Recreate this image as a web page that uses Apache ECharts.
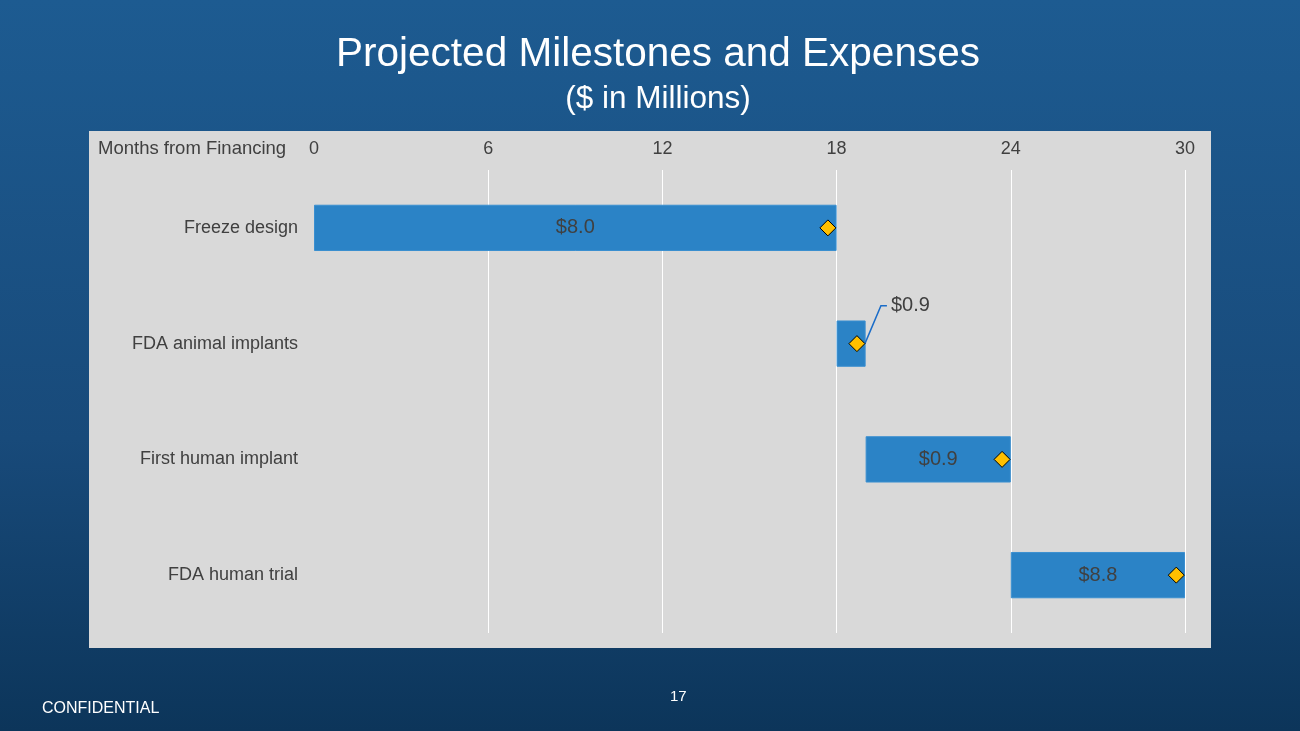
<!DOCTYPE html>
<html>
<head>
<meta charset="utf-8">
<script src="https://cdn.jsdelivr.net/npm/echarts@6/dist/echarts.min.js"></script>
<style>
html,body{margin:0;padding:0;width:1300px;height:731px;overflow:hidden;}
#c{width:1300px;height:731px;}
</style>
</head>
<body>
<div id="c"></div>
<script>
const categories = ['Freeze design', 'FDA animal implants', 'First human implant', 'FDA human trial'];
const startMonths = [0, 18, 19, 24];
const endMonths = [18, 19, 24, 30];
const milestoneMonths = [17.7, 18.7, 23.7, 29.7];
const expenses = [8.0, 0.9, 0.9, 8.8];
const monthTicks = [0, 6, 12, 18, 24, 30];
const calloutIndex = 1; // label drawn outside the bar with a leader line

const durations = endMonths.map((e, i) => e - startMonths[i]);
const fmt = v => '$' + v.toFixed(1);

const chart = echarts.init(document.getElementById('c'), null, {renderer: 'canvas'});
const FONT = '"Liberation Sans", Arial, sans-serif';

chart.setOption({
  animation: false,
  backgroundColor: {
    type: 'linear', x: 0, y: 0, x2: 0, y2: 1,
    colorStops: [
      {offset: 0, color: '#1d5b91'},
      {offset: 0.6, color: '#184a7a'},
      {offset: 1, color: '#0c355a'}
    ]
  },
  graphic: [
    {type: 'rect', z: -10, silent: true,
     shape: {x: 89, y: 131, width: 1122, height: 517},
     style: {fill: '#d9d9d9'}},
    {type: 'text', x: 658, y: 55, z: 10,
     style: {text: 'Projected Milestones and Expenses', fill: '#ffffff',
       font: '40.5px ' + FONT, align: 'center', verticalAlign: 'middle'}},
    {type: 'text', x: 658, y: 99, z: 10,
     style: {text: '($ in Millions)', fill: '#ffffff',
       font: '31.5px ' + FONT, align: 'center', verticalAlign: 'middle'}},
    {type: 'text', left: 98, top: 139, z: 10,
     style: {text: 'Months from Financing', fill: '#404040', font: '18.5px ' + FONT}},
    {type: 'text', left: 42, top: 701,
     style: {text: 'CONFIDENTIAL', fill: '#ffffff', font: '16px ' + FONT}},
    {type: 'text', left: 670, top: 689,
     style: {text: '17', fill: '#ffffff', font: '15px ' + FONT}}
  ],
  grid: {left: 314, right: 115, top: 170, bottom: 98, containLabel: false},
  xAxis: {
    type: 'value', position: 'top', min: 0, max: 30, interval: 6,
    axisLine: {show: false}, axisTick: {show: false},
    axisLabel: {color: '#404040', fontSize: 18, fontFamily: FONT, margin: 12,
      customValues: monthTicks},
    splitLine: {show: true, showMinLine: false, lineStyle: {color: '#ffffff', width: 1}}
  },
  yAxis: {
    type: 'category', inverse: true, data: categories,
    axisLine: {show: false}, axisTick: {show: false},
    axisLabel: {color: '#404040', fontSize: 18, fontFamily: FONT, margin: 16}
  },
  series: [
    {type: 'bar', stack: 'g', data: startMonths, itemStyle: {color: 'transparent'},
     barWidth: '40%', silent: true},
    {type: 'bar', stack: 'g', barWidth: '40%',
     data: durations.map((d, i) => ({
       value: d,
       label: {show: i !== calloutIndex}
     })),
     itemStyle: {color: '#2b83c6', borderColor: '#3a8fd0', borderWidth: 1},
     label: {position: 'inside', color: '#404040', fontSize: 20, fontFamily: FONT,
       formatter: p => fmt(expenses[p.dataIndex])}
    },
    {type: 'custom', z: 4, silent: true,
     data: [[milestoneMonths[calloutIndex], calloutIndex, expenses[calloutIndex]]],
     encode: {x: 0, y: 1},
     renderItem: function (params, api) {
       const p = api.coord([api.value(0), api.value(1)]);
       const x0 = p[0] + 8, y0 = p[1];
       const yL = y0 - 38;
       return {
         type: 'group',
         children: [
           {type: 'polyline',
            shape: {points: [[x0, y0], [x0 + 16, yL], [x0 + 22, yL]]},
            style: {stroke: '#1a6cc8', lineWidth: 1.5, fill: null}},
           {type: 'text',
            style: {text: fmt(api.value(2)), x: x0 + 26, y: yL,
              verticalAlign: 'middle', align: 'left',
              fill: '#404040', font: '20px ' + FONT}}
         ]
       };
     }
    },
    {type: 'scatter', symbol: 'diamond', symbolSize: 16, z: 5,
     data: milestoneMonths.map((m, i) => [m, i]),
     itemStyle: {color: '#ffc000', borderColor: '#000000', borderWidth: 1, opacity: 1}
    }
  ]
});
</script>
</body>
</html>
